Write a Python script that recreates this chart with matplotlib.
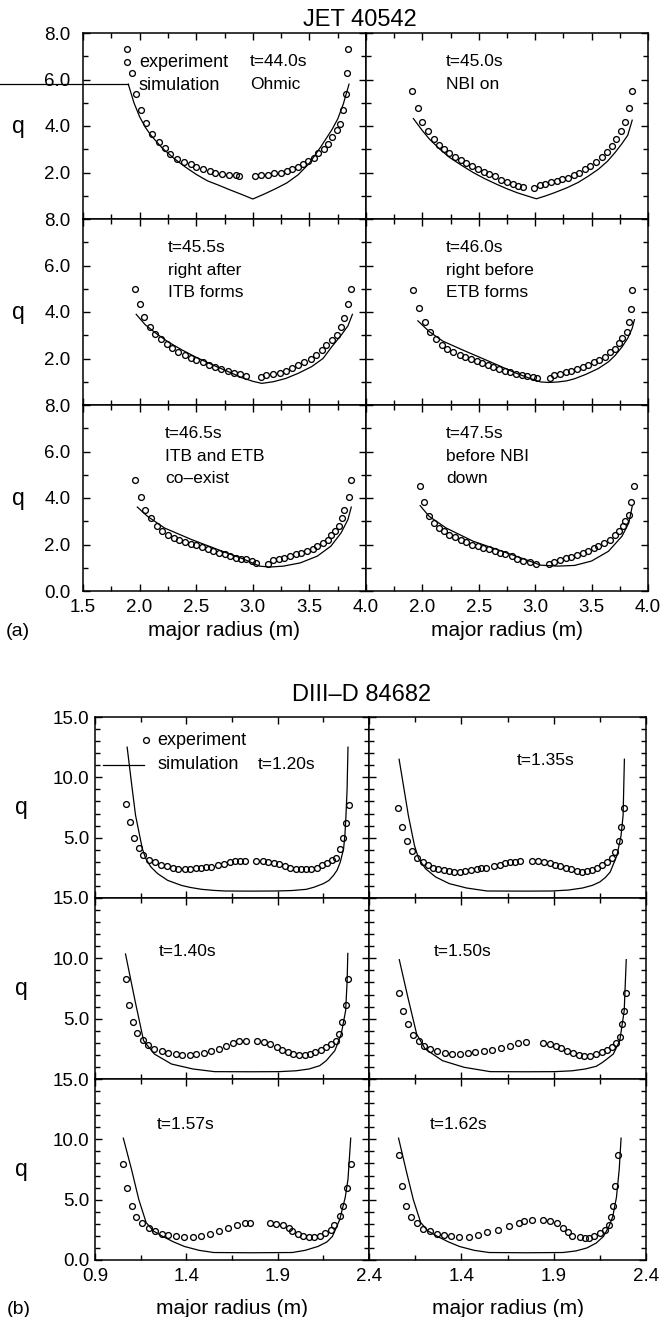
import matplotlib
matplotlib.use("Agg")
import matplotlib.pyplot as plt
from matplotlib.ticker import FixedLocator, FuncFormatter

plt.rcParams['font.family'] = ['Liberation Sans', 'DejaVu Sans']

# ---------------- JET 40542 (panel a) ----------------
jet_title = "JET 40542"
jet_notes = [["t=44.0s", "Ohmic"], ["t=45.0s", "NBI on"],
             ["t=45.5s", "right after", "ITB forms"], ["t=46.0s", "right before", "ETB forms"],
             ["t=46.5s", "ITB and ETB", "co\u2013exist"], ["t=47.5s", "before NBI", "down"]]
jet_xticks = [1.5, 2.0, 2.5, 3.0, 3.5, 4.0]
jet_xminor = [1.75, 2.25, 2.75, 3.25, 3.75]
jet_yticks = [0.0, 2.0, 4.0, 6.0, 8.0]
jet_yminor = [1.0, 3.0, 5.0, 7.0]

jet_440_exp_r = [1.885, 1.93, 1.97, 2.01, 2.06, 2.11, 2.17, 2.22, 2.27, 2.33, 2.39, 2.45, 2.50, 2.56,
                 2.62, 2.67, 2.73, 2.79, 2.85, 2.88, 3.02, 3.07, 3.13, 3.19, 3.25, 3.30, 3.35, 3.40,
                 3.44, 3.49, 3.54, 3.58, 3.63, 3.66, 3.70, 3.74, 3.77, 3.80, 3.82, 3.83, 3.84]
jet_440_exp_q = [7.31, 6.29, 5.39, 4.67, 4.11, 3.67, 3.33, 3.04, 2.81, 2.60, 2.46, 2.36, 2.24, 2.14,
                 2.06, 2.00, 1.94, 1.91, 1.89, 1.86, 1.86, 1.89, 1.91, 1.96, 2.00, 2.07, 2.14, 2.24,
                 2.36, 2.50, 2.64, 2.83, 3.03, 3.24, 3.54, 3.81, 4.10, 4.69, 5.39, 6.29, 7.31]
jet_440_sim_r = [1.90, 1.95, 2.00, 2.05, 2.10, 2.20, 2.30, 2.40, 2.50, 2.60, 2.70, 2.80, 2.90, 3.00,
                 3.10, 3.20, 3.30, 3.40, 3.50, 3.60, 3.70, 3.75, 3.80, 3.85]
jet_440_sim_q = [5.80, 5.00, 4.40, 3.95, 3.60, 3.05, 2.62, 2.25, 1.92, 1.64, 1.45, 1.25, 1.06, 0.86,
                 1.07, 1.30, 1.55, 1.90, 2.40, 3.10, 3.85, 4.30, 4.95, 5.80]

jet_450_exp_r = [1.91, 1.96, 2.00, 2.05, 2.10, 2.15, 2.19, 2.24, 2.29, 2.34, 2.39, 2.44, 2.49, 2.55,
                 2.59, 2.64, 2.70, 2.75, 2.80, 2.85, 2.89, 2.99, 3.04, 3.09, 3.14, 3.19, 3.24, 3.29,
                 3.34, 3.39, 3.44, 3.49, 3.54, 3.59, 3.64, 3.68, 3.72, 3.76, 3.80, 3.83, 3.86]
jet_450_exp_q = [5.50, 4.78, 4.17, 3.77, 3.45, 3.19, 2.99, 2.83, 2.68, 2.54, 2.39, 2.26, 2.14, 2.03,
                 1.93, 1.83, 1.68, 1.58, 1.50, 1.43, 1.36, 1.35, 1.45, 1.52, 1.57, 1.64, 1.71, 1.78,
                 1.88, 2.00, 2.14, 2.29, 2.46, 2.65, 2.87, 3.13, 3.45, 3.77, 4.17, 4.78, 5.50]
jet_450_sim_r = [1.92, 2.00, 2.06, 2.15, 2.24, 2.35, 2.45, 2.55, 2.66, 2.75, 2.84, 2.93, 3.01, 3.09,
                 3.17, 3.28, 3.38, 3.47, 3.56, 3.64, 3.71, 3.77, 3.82, 3.86]
jet_450_sim_q = [4.32, 3.80, 3.45, 3.02, 2.65, 2.30, 2.00, 1.74, 1.49, 1.30, 1.13, 0.99, 0.87, 0.99,
                 1.13, 1.34, 1.57, 1.84, 2.14, 2.48, 2.87, 3.25, 3.60, 4.25]

jet_455_exp_r = [1.96, 2.00, 2.04, 2.09, 2.14, 2.19, 2.24, 2.29, 2.34, 2.40, 2.45, 2.50, 2.56, 2.61,
                 2.67, 2.72, 2.78, 2.83, 2.89, 2.94, 3.07, 3.12, 3.18, 3.24, 3.29, 3.35, 3.40, 3.45,
                 3.51, 3.56, 3.61, 3.65, 3.70, 3.74, 3.78, 3.81, 3.84, 3.87]
jet_455_exp_q = [5.01, 4.33, 3.78, 3.36, 3.07, 2.84, 2.62, 2.45, 2.30, 2.16, 2.04, 1.94, 1.84, 1.74,
                 1.65, 1.55, 1.46, 1.39, 1.33, 1.26, 1.22, 1.29, 1.33, 1.39, 1.48, 1.58, 1.70, 1.83,
                 1.99, 2.16, 2.35, 2.57, 2.78, 3.03, 3.36, 3.75, 4.33, 5.01]
jet_455_sim_r = [1.97, 2.05, 2.14, 2.25, 2.37, 2.50, 2.68, 2.80, 2.90, 3.00, 3.08, 3.18, 3.29, 3.40,
                 3.52, 3.62, 3.70, 3.78, 3.84, 3.88]
jet_455_sim_q = [3.90, 3.45, 3.10, 2.72, 2.38, 2.05, 1.65, 1.40, 1.18, 1.02, 0.93, 1.00, 1.14, 1.36,
                 1.65, 2.00, 2.52, 3.00, 3.40, 3.90]

jet_460_exp_r = [1.92, 1.97, 2.02, 2.07, 2.12, 2.17, 2.22, 2.27, 2.33, 2.38, 2.43, 2.48, 2.53, 2.58,
                 2.63, 2.68, 2.73, 2.78, 2.83, 2.88, 2.93, 2.98, 3.02, 3.13, 3.17, 3.22, 3.27, 3.32,
                 3.37, 3.42, 3.47, 3.52, 3.57, 3.62, 3.66, 3.71, 3.74, 3.77, 3.81, 3.83, 3.85, 3.86]
jet_460_exp_q = [4.93, 4.17, 3.59, 3.16, 2.83, 2.58, 2.39, 2.29, 2.17, 2.07, 2.00, 1.90, 1.81, 1.71,
                 1.64, 1.54, 1.46, 1.42, 1.35, 1.30, 1.25, 1.20, 1.16, 1.16, 1.28, 1.35, 1.42, 1.46,
                 1.54, 1.64, 1.71, 1.83, 1.93, 2.07, 2.26, 2.43, 2.65, 2.87, 3.16, 3.57, 4.14, 4.93]
jet_460_sim_r = [1.96, 2.06, 2.18, 2.36, 2.60, 2.84, 2.95, 3.05, 3.12, 3.20, 3.28, 3.35, 3.45, 3.56,
                 3.65, 3.71, 3.77, 3.82, 3.86, 3.88]
jet_460_sim_q = [3.62, 3.16, 2.75, 2.36, 1.86, 1.35, 1.15, 0.99, 0.97, 0.99, 1.04, 1.13, 1.32, 1.57,
                 1.86, 2.14, 2.50, 2.87, 3.30, 3.67]

jet_465_exp_r = [1.96, 2.01, 2.05, 2.10, 2.15, 2.20, 2.25, 2.30, 2.35, 2.40, 2.45, 2.50, 2.55, 2.60,
                 2.65, 2.70, 2.75, 2.80, 2.85, 2.90, 2.94, 2.99, 3.03, 3.13, 3.18, 3.23, 3.28, 3.33,
                 3.38, 3.43, 3.48, 3.53, 3.57, 3.62, 3.66, 3.69, 3.73, 3.76, 3.79, 3.81, 3.85, 3.87]
jet_465_exp_q = [4.76, 4.03, 3.50, 3.14, 2.81, 2.57, 2.39, 2.29, 2.19, 2.10, 2.03, 1.96, 1.89, 1.79,
                 1.71, 1.64, 1.57, 1.50, 1.43, 1.39, 1.36, 1.29, 1.19, 1.17, 1.33, 1.39, 1.43, 1.50,
                 1.57, 1.64, 1.71, 1.81, 1.93, 2.07, 2.21, 2.39, 2.57, 2.81, 3.14, 3.50, 4.03, 4.76]
jet_465_sim_r = [1.98, 2.07, 2.22, 2.46, 2.73, 2.91, 3.06, 3.15, 3.27, 3.42, 3.57, 3.69, 3.78, 3.84, 3.87]
jet_465_sim_q = [3.61, 3.21, 2.71, 2.21, 1.71, 1.39, 1.07, 1.03, 1.07, 1.21, 1.50, 1.93, 2.50, 3.07, 3.61]

jet_475_exp_r = [1.98, 2.01, 2.06, 2.10, 2.15, 2.19, 2.24, 2.29, 2.34, 2.39, 2.44, 2.49, 2.54, 2.59,
                 2.64, 2.69, 2.73, 2.79, 2.84, 2.89, 2.95, 3.01, 3.12, 3.17, 3.22, 3.27, 3.32, 3.37,
                 3.42, 3.47, 3.52, 3.56, 3.61, 3.66, 3.71, 3.74, 3.78, 3.80, 3.83, 3.85, 3.88]
jet_475_exp_q = [4.53, 3.81, 3.24, 2.93, 2.71, 2.57, 2.43, 2.33, 2.21, 2.10, 2.00, 1.93, 1.86, 1.79,
                 1.71, 1.64, 1.57, 1.50, 1.39, 1.31, 1.26, 1.17, 1.17, 1.26, 1.33, 1.40, 1.47, 1.54,
                 1.64, 1.74, 1.83, 1.93, 2.07, 2.21, 2.39, 2.57, 2.79, 3.00, 3.29, 3.81, 4.53]
jet_475_sim_r = [1.98, 2.06, 2.21, 2.45, 2.66, 2.87, 3.05, 3.20, 3.35, 3.50, 3.65, 3.77, 3.83, 3.86]
jet_475_sim_q = [3.67, 3.21, 2.71, 2.14, 1.79, 1.43, 1.11, 1.07, 1.10, 1.29, 1.71, 2.36, 2.93, 3.64]

# ---------------- DIII-D 84682 (panel b) ----------------
d3d_title = "DIII\u2013D 84682"
d3d_notes = ["t=1.20s", "t=1.35s", "t=1.40s", "t=1.50s", "t=1.57s", "t=1.62s"]
d3d_xticks = [0.9, 1.4, 1.9, 2.4]
d3d_xminor = [1.15, 1.65, 2.15]
d3d_yticks = [0.0, 5.0, 10.0, 15.0]
d3d_yminor = [1, 2, 3, 4, 6, 7, 8, 9, 11, 12, 13, 14]

d3d_120_exp_r = [1.067, 1.089, 1.113, 1.141, 1.165, 1.196, 1.228, 1.261, 1.294, 1.326, 1.357, 1.390,
                 1.422, 1.452, 1.483, 1.509, 1.535, 1.576, 1.607, 1.637, 1.669, 1.696, 1.720, 1.783,
                 1.817, 1.848, 1.878, 1.909, 1.941, 1.970, 2.002, 2.030, 2.057, 2.085, 2.113, 2.141,
                 2.169, 2.196, 2.219, 2.243, 2.257, 2.274, 2.293]
d3d_120_exp_q = [7.76, 6.30, 5.00, 4.14, 3.54, 3.18, 2.98, 2.76, 2.62, 2.51, 2.43, 2.43, 2.43, 2.49,
                 2.51, 2.54, 2.57, 2.71, 2.85, 2.98, 3.04, 3.04, 3.07, 3.04, 3.04, 2.98, 2.90, 2.79,
                 2.65, 2.51, 2.43, 2.38, 2.38, 2.43, 2.51, 2.71, 2.93, 3.12, 3.31, 4.09, 5.00, 6.24, 7.73]
d3d_120_sim_r = [1.076, 1.100, 1.122, 1.159, 1.178, 1.206, 1.243, 1.298, 1.372, 1.420, 1.483, 1.550,
                 1.613, 1.750, 1.890, 1.980, 2.057, 2.100, 2.150, 2.180, 2.206, 2.225, 2.243, 2.261,
                 2.268, 2.274, 2.280, 2.285]
d3d_120_sim_q = [12.5, 9.5, 6.85, 4.09, 3.26, 2.57, 2.02, 1.46, 1.05, 0.88, 0.72, 0.63, 0.58, 0.57,
                 0.58, 0.62, 0.72, 0.90, 1.19, 1.45, 1.88, 2.30, 2.98, 4.09, 5.20, 6.85, 9.0, 12.5]

d3d_135_exp_r = [1.057, 1.080, 1.104, 1.131, 1.159, 1.190, 1.220, 1.248, 1.276, 1.304, 1.331, 1.359,
                 1.391, 1.422, 1.452, 1.483, 1.508, 1.533, 1.576, 1.607, 1.635, 1.663, 1.693, 1.720,
                 1.785, 1.817, 1.848, 1.878, 1.906, 1.937, 1.969, 1.996, 2.024, 2.052, 2.080, 2.107,
                 2.135, 2.163, 2.190, 2.215, 2.233, 2.252, 2.265, 2.283]
d3d_135_exp_q = [7.46, 5.88, 4.70, 3.87, 3.31, 2.98, 2.76, 2.51, 2.38, 2.29, 2.21, 2.15, 2.15, 2.21,
                 2.29, 2.43, 2.46, 2.49, 2.62, 2.76, 2.90, 2.98, 2.98, 3.07, 3.07, 3.04, 2.98, 2.90,
                 2.76, 2.65, 2.51, 2.38, 2.24, 2.15, 2.24, 2.32, 2.49, 2.71, 2.98, 3.31, 3.81, 4.70,
                 5.88, 7.46]
d3d_135_sim_r = [1.063, 1.090, 1.113, 1.146, 1.169, 1.206, 1.261, 1.335, 1.428, 1.539, 1.750, 1.890,
                 1.980, 2.057, 2.110, 2.150, 2.180, 2.206, 2.243, 2.265, 2.276, 2.283]
d3d_135_sim_q = [11.5, 9.0, 6.85, 4.36, 3.26, 2.43, 1.74, 1.19, 0.83, 0.58, 0.57, 0.58, 0.66, 0.83,
                 1.05, 1.33, 1.70, 2.15, 3.54, 5.19, 6.85, 11.5]

d3d_140_exp_r = [1.067, 1.084, 1.107, 1.131, 1.161, 1.190, 1.225, 1.267, 1.302, 1.342, 1.378, 1.418,
                 1.455, 1.495, 1.535, 1.578, 1.618, 1.655, 1.690, 1.724, 1.789, 1.825, 1.860, 1.895,
                 1.926, 1.954, 1.985, 2.018, 2.048, 2.076, 2.107, 2.138, 2.166, 2.194, 2.218, 2.236,
                 2.253, 2.272, 2.284]
d3d_140_exp_q = [8.29, 6.16, 4.70, 3.78, 3.26, 2.85, 2.49, 2.29, 2.13, 2.04, 1.99, 1.99, 2.04, 2.13,
                 2.29, 2.49, 2.76, 2.96, 3.12, 3.18, 3.18, 3.04, 2.90, 2.68, 2.43, 2.21, 2.07, 1.99,
                 1.99, 2.07, 2.21, 2.40, 2.62, 2.90, 3.18, 3.73, 4.70, 6.16, 8.29]
d3d_140_sim_r = [1.067, 1.119, 1.166, 1.225, 1.319, 1.436, 1.554, 1.750, 1.907, 2.000, 2.072, 2.130,
                 2.166, 2.213, 2.248, 2.272, 2.280, 2.284]
d3d_140_sim_q = [10.36, 6.50, 3.18, 2.07, 1.24, 0.83, 0.61, 0.60, 0.61, 0.68, 0.83, 1.10, 1.52, 2.35,
                 3.73, 5.66, 8.0, 10.41]

d3d_150_exp_r = [1.064, 1.083, 1.111, 1.139, 1.169, 1.200, 1.228, 1.270, 1.310, 1.350, 1.392, 1.434,
                 1.474, 1.521, 1.567, 1.614, 1.661, 1.708, 1.748, 1.841, 1.879, 1.912, 1.942, 1.973,
                 2.005, 2.036, 2.066, 2.099, 2.130, 2.160, 2.188, 2.216, 2.240, 2.258, 2.270, 2.282, 2.293]
d3d_150_exp_q = [7.10, 5.61, 4.56, 3.67, 3.18, 2.76, 2.49, 2.29, 2.13, 2.07, 2.07, 2.13, 2.21, 2.29,
                 2.40, 2.57, 2.76, 2.96, 3.04, 2.98, 2.90, 2.76, 2.57, 2.35, 2.13, 2.02, 1.93, 1.93,
                 2.07, 2.21, 2.40, 2.62, 2.96, 3.51, 4.56, 5.61, 7.10]
d3d_150_sim_r = [1.064, 1.110, 1.158, 1.204, 1.298, 1.415, 1.556, 1.750, 1.907, 2.000, 2.071, 2.130,
                 2.165, 2.223, 2.258, 2.282, 2.293]
d3d_150_sim_q = [9.89, 6.80, 3.73, 2.49, 1.52, 0.97, 0.61, 0.60, 0.61, 0.68, 0.83, 1.05, 1.38, 2.07,
                 3.18, 5.66, 9.89]

d3d_157_exp_r = [1.055, 1.076, 1.100, 1.126, 1.159, 1.194, 1.229, 1.267, 1.302, 1.342, 1.389, 1.436,
                 1.483, 1.530, 1.580, 1.630, 1.680, 1.720, 1.750, 1.860, 1.890, 1.930, 1.960, 1.980,
                 2.010, 2.040, 2.070, 2.100, 2.130, 2.160, 2.190, 2.210, 2.240, 2.260, 2.280, 2.300]
d3d_157_exp_q = [7.98, 5.94, 4.48, 3.56, 3.03, 2.66, 2.38, 2.18, 2.04, 1.96, 1.90, 1.90, 2.02, 2.16,
                 2.38, 2.66, 2.88, 3.03, 3.08, 3.03, 2.97, 2.86, 2.66, 2.38, 2.16, 1.96, 1.88, 1.88,
                 2.02, 2.24, 2.52, 2.94, 3.64, 4.48, 5.94, 7.98]
d3d_157_sim_r = [1.055, 1.100, 1.140, 1.180, 1.220, 1.270, 1.330, 1.390, 1.470, 1.550, 1.750, 1.980,
                 2.050, 2.120, 2.170, 2.200, 2.240, 2.270, 2.285, 2.300]
d3d_157_sim_q = [10.1, 7.5, 5.0, 3.1, 2.4, 1.96, 1.50, 1.12, 0.80, 0.62, 0.60, 0.62, 0.80, 1.12, 1.50,
                 1.96, 3.36, 5.2, 6.7, 10.1]

d3d_162_exp_r = [1.064, 1.080, 1.100, 1.127, 1.158, 1.193, 1.228, 1.268, 1.305, 1.345, 1.390, 1.440,
                 1.490, 1.540, 1.600, 1.660, 1.710, 1.740, 1.780, 1.840, 1.880, 1.920, 1.950, 1.980,
                 2.000, 2.040, 2.070, 2.090, 2.120, 2.150, 2.180, 2.200, 2.210, 2.220, 2.230, 2.250]
d3d_162_exp_q = [8.74, 6.16, 4.48, 3.56, 3.03, 2.60, 2.38, 2.18, 2.04, 1.96, 1.90, 1.90, 2.10, 2.30,
                 2.52, 2.80, 3.03, 3.22, 3.30, 3.28, 3.22, 3.03, 2.66, 2.30, 2.02, 1.88, 1.82, 1.82,
                 1.96, 2.24, 2.52, 2.94, 3.56, 4.48, 6.16, 8.74]
d3d_162_sim_r = [1.060, 1.100, 1.140, 1.180, 1.220, 1.270, 1.330, 1.390, 1.470, 1.550, 1.750, 1.950,
                 2.020, 2.080, 2.130, 2.170, 2.200, 2.220, 2.240, 2.255, 2.265]
d3d_162_sim_q = [10.1, 7.5, 5.0, 3.1, 2.4, 1.96, 1.50, 1.12, 0.80, 0.62, 0.60, 0.62, 0.75, 1.00, 1.40,
                 1.96, 2.80, 3.60, 5.20, 7.50, 10.1]

jet_panels = [(jet_440_exp_r, jet_440_exp_q, jet_440_sim_r, jet_440_sim_q),
              (jet_450_exp_r, jet_450_exp_q, jet_450_sim_r, jet_450_sim_q),
              (jet_455_exp_r, jet_455_exp_q, jet_455_sim_r, jet_455_sim_q),
              (jet_460_exp_r, jet_460_exp_q, jet_460_sim_r, jet_460_sim_q),
              (jet_465_exp_r, jet_465_exp_q, jet_465_sim_r, jet_465_sim_q),
              (jet_475_exp_r, jet_475_exp_q, jet_475_sim_r, jet_475_sim_q)]
d3d_panels = [(d3d_120_exp_r, d3d_120_exp_q, d3d_120_sim_r, d3d_120_sim_q),
              (d3d_135_exp_r, d3d_135_exp_q, d3d_135_sim_r, d3d_135_sim_q),
              (d3d_140_exp_r, d3d_140_exp_q, d3d_140_sim_r, d3d_140_sim_q),
              (d3d_150_exp_r, d3d_150_exp_q, d3d_150_sim_r, d3d_150_sim_q),
              (d3d_157_exp_r, d3d_157_exp_q, d3d_157_sim_r, d3d_157_sim_q),
              (d3d_162_exp_r, d3d_162_exp_q, d3d_162_sim_r, d3d_162_sim_q)]

W, H = 669, 1317
fig = plt.figure(figsize=(W / 100, H / 100), dpi=100)
fig.patch.set_facecolor("white")

TICK_FS = 13.5
NOTE_FS = 12.5
LEGEND_FS = 13
LABEL_FS = 15
TITLE_FS = 17


def make_grid(x0, xm, x1, y0, rowh):
    # pixel layout (y from top) -> 3 x 2 stacked axes
    grid = []
    for row in range(3):
        top = y0 + row * rowh
        pair = []
        for left, right in ((x0, xm), (xm, x1)):
            pair.append(fig.add_axes([left / W, 1 - (top + rowh) / H, (right - left) / W, rowh / H]))
        grid.append(pair)
    return grid


def style_axis(ax, row, col, xticks, xminor, yticks, yminor, ypad):
    ax.set_xlim(xticks[0], xticks[-1])
    ax.set_ylim(yticks[0], yticks[-1])
    ax.xaxis.set_major_locator(FixedLocator(xticks))
    ax.xaxis.set_minor_locator(FixedLocator(xminor))
    ax.yaxis.set_major_locator(FixedLocator(yticks))
    ax.yaxis.set_minor_locator(FixedLocator(yminor))
    ax.tick_params(which="both", direction="in", top=True, right=True, width=1.0,
                   labelsize=TICK_FS)
    ax.tick_params(which="major", length=5)
    ax.tick_params(which="minor", length=3.5)
    ax.tick_params(axis="x", pad=5.5)
    ax.tick_params(axis="y", pad=ypad)
    for sp in ax.spines.values():
        sp.set_linewidth(1.1)

    x_lo = xticks[0]
    y_lo = yticks[0]
    ax.xaxis.set_major_formatter(FuncFormatter(
        lambda v, p: "" if (col == 1 and abs(v - x_lo) < 1e-6) else f"{v:.1f}"))
    ax.yaxis.set_major_formatter(FuncFormatter(
        lambda v, p: "" if (row < 2 and abs(v - y_lo) < 1e-6) else f"{v:.1f}"))
    if row < 2:
        ax.tick_params(labelbottom=False)
    if col == 1:
        ax.tick_params(labelleft=False)


def draw_profile(ax, exp_r, exp_q, sim_r, sim_q):
    ax.plot(sim_r, sim_q, color="black", lw=0.9)
    ax.plot(exp_r, exp_q, "o", mfc="none", mec="black", ms=4.2, mew=0.95)


# ---------------- panel (a) ----------------
jet_axes = make_grid(83, 366, 648, 33, 186)
jet_note_x = [0.59, 0.283, 0.30, 0.283, 0.29, 0.283]
for i, (exp_r, exp_q, sim_r, sim_q) in enumerate(jet_panels):
    row, col = divmod(i, 2)
    ax = jet_axes[row][col]
    style_axis(ax, row, col, jet_xticks, jet_xminor, jet_yticks, jet_yminor, ypad=9)
    draw_profile(ax, exp_r, exp_q, sim_r, sim_q)
    for k, line in enumerate(jet_notes[i]):
        ax.text(jet_note_x[i], 0.845 - 0.121 * k, line, transform=ax.transAxes,
                fontsize=NOTE_FS, va="center", ha="left")
    if col == 0:
        ax.set_ylabel("q", rotation=0, fontsize=16.5, va="center", ha="center")
        ax.yaxis.set_label_coords(-0.23, 0.5)
    if row == 2:
        ax.set_xlabel("major radius (m)", fontsize=LABEL_FS, va="center")
        ax.xaxis.set_label_coords(0.5, -0.215)

# legend of panel (a)
ax = jet_axes[0][0]
ax.plot([0.154], [0.843], "o", mfc="none", mec="black", ms=4.2, mew=0.95, transform=ax.transAxes)
ax.plot([-0.293, 0.16], [0.725, 0.725], color="black", lw=0.9, transform=ax.transAxes, clip_on=False)
ax.text(0.197, 0.843, "experiment", transform=ax.transAxes, fontsize=LEGEND_FS, va="center", ha="left")
ax.text(0.197, 0.72, "simulation", transform=ax.transAxes, fontsize=LEGEND_FS, va="center", ha="left")

fig.text(360 / W, 1 - 20 / H, jet_title, fontsize=TITLE_FS, ha="center", va="center")
fig.text(18 / W, 1 - 631 / H, "(a)", fontsize=14, ha="center", va="center")

# ---------------- panel (b) ----------------
d3d_axes = make_grid(95, 369, 646, 717, 181)
d3d_note_pos = [(0.595, 0.737), (0.535, 0.76), (0.232, 0.707),
                (0.234, 0.707), (0.225, 0.75), (0.22, 0.75)]
for i, (exp_r, exp_q, sim_r, sim_q) in enumerate(d3d_panels):
    row, col = divmod(i, 2)
    ax = d3d_axes[row][col]
    style_axis(ax, row, col, d3d_xticks, d3d_xminor, d3d_yticks, d3d_yminor, ypad=4)
    draw_profile(ax, exp_r, exp_q, sim_r, sim_q)
    nx, ny = d3d_note_pos[i]
    ax.text(nx, ny, d3d_notes[i], transform=ax.transAxes, fontsize=NOTE_FS, va="center", ha="left")
    if col == 0:
        ax.set_ylabel("q", rotation=0, fontsize=16.5, va="center", ha="center")
        ax.yaxis.set_label_coords(-0.27, 0.5)
    if row == 2:
        ax.set_xlabel("major radius (m)", fontsize=LABEL_FS, va="center")
        ax.xaxis.set_label_coords(0.5, -0.27)

# legend of panel (b)
ax = d3d_axes[0][0]
ax.plot([0.185], [0.871], "o", mfc="none", mec="black", ms=4.2, mew=0.95, transform=ax.transAxes)
ax.plot([0.031, 0.179], [0.737, 0.737], color="black", lw=0.9, transform=ax.transAxes)
ax.text(0.228, 0.871, "experiment", transform=ax.transAxes, fontsize=LEGEND_FS, va="center", ha="left")
ax.text(0.228, 0.737, "simulation", transform=ax.transAxes, fontsize=LEGEND_FS, va="center", ha="left")

fig.text(362 / W, 1 - 695 / H, d3d_title, fontsize=TITLE_FS, ha="center", va="center")
fig.text(19 / W, 1 - 1309 / H, "(b)", fontsize=14, ha="center", va="center")

fig.savefig("out.png", dpi=100)
plt.close(fig)
